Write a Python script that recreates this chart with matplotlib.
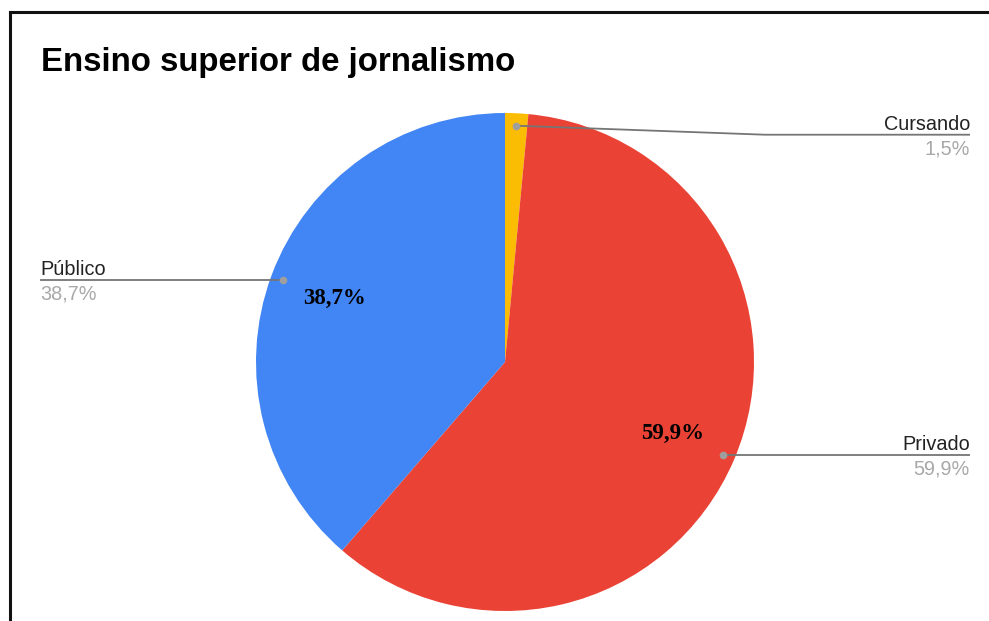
import numpy as np
import matplotlib.pyplot as plt
from matplotlib.lines import Line2D

# Dados do gráfico
categorias = ["Cursando", "Privado", "Público"]
valores = [1.5, 59.9, 38.7]
rotulos_pct = ["1,5%", "59,9%", "38,7%"]
cores = ["#FBBC04", "#EA4335", "#4285F4"]
mostrar_interno = [False, True, True]

W, H = 989, 621
fig = plt.figure(figsize=(W / 100, H / 100), dpi=100)
ax = fig.add_axes([0, 0, 1, 1])
ax.set_xlim(0, W)
ax.set_ylim(0, H)
ax.set_aspect("equal")
ax.axis("off")

cx, cy, r = 505, H - 362, 249
wedges, _ = ax.pie(
    valores, colors=cores, startangle=90, counterclock=False,
    center=(cx, cy), radius=r, wedgeprops=dict(linewidth=0),
)
ax.set_xlim(0, W)
ax.set_ylim(0, H)

# Moldura (só esquerda e topo aparecem)
fig.add_artist(Line2D([10 / W, 10 / W], [0, 1 - 12 / H], color="#111", lw=2.2, transform=fig.transFigure))
fig.add_artist(Line2D([10 / W, 1], [1 - 12 / H, 1 - 12 / H], color="#111", lw=2.2, transform=fig.transFigure))

fig.text(41 / W, 1 - 71 / H, "Ensino superior de jornalismo", fontsize=23.8, fontweight="bold",
         family="Liberation Sans", color="#000", va="baseline")

# desvio vertical da linha-guia (para o rótulo não encostar na moldura)
desvio = {"Cursando": -9}

for w, cat, pct, interno in zip(wedges, categorias, rotulos_pct, mostrar_interno):
    ang = np.deg2rad((w.theta1 + w.theta2) / 2)
    dx, dy = np.cos(ang), np.sin(ang)
    if interno:
        ax.text(cx + 0.73 * r * dx, cy + 0.73 * r * dy, pct, ha="center", va="center",
                fontsize=16.5, fontweight="bold", family="Liberation Serif", color="#000")
    px, py = cx + 0.95 * r * dx, cy + 0.95 * r * dy
    ly = py + desvio.get(cat, 0)
    if dx >= 0:
        xfim, ha = 970, "right"
    else:
        xfim, ha = 40, "left"
    if ly != py:
        xs = [px, 765, xfim]
        ys = [py, ly, ly]
    else:
        xs = [px, xfim]
        ys = [py, ly]
    ax.plot(xs, ys, color="#757575", lw=1.3, solid_capstyle="butt")
    ax.plot(px, py, "o", color="#9e9e9e", ms=5.5, mec="none")
    ax.text(xfim, ly + 5, cat, ha=ha, va="baseline", fontsize=14.3,
            family="Liberation Sans", color="#222")
    ax.text(xfim, ly - 5, pct, ha=ha, va="top", fontsize=14.3,
            family="Liberation Sans", color="#a8a8a8")

fig.savefig("out.png", dpi=100, facecolor="white")
